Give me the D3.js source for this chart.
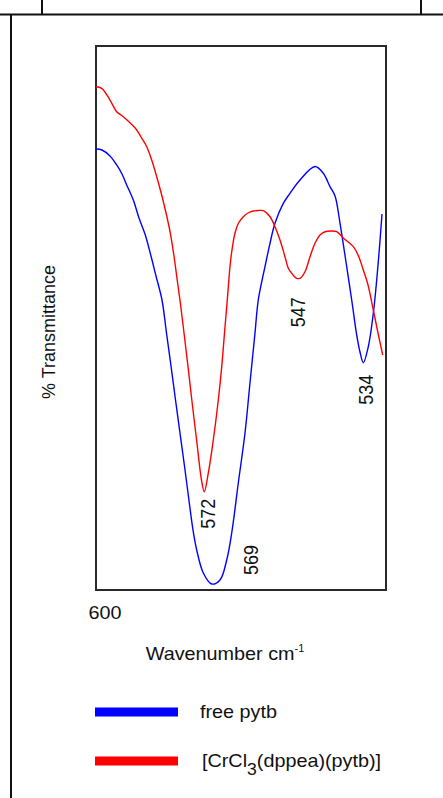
<!DOCTYPE html>
<html>
<head>
<meta charset="utf-8">
<script src="https://cdn.jsdelivr.net/npm/d3@7/dist/d3.min.js"></script>
<style>
  html, body { margin: 0; padding: 0; background: #fff; }
  svg { display: block; }
  text { font-family: "Liberation Sans", Arial, sans-serif; fill: #111; }
</style>
</head>
<body>
<svg id="chart" width="443" height="798"></svg>
<script>
// IR spectra, far-IR region: [wavenumber (cm-1), % transmittance]
const freePytb = [
  [600, 81.07], [598.47, 80.88], [596.43, 79.78], [594.72, 78.13], [593.37, 76.47],
  [592.17, 74.45], [590.48, 71.69], [589.03, 68.38], [587.5, 65.44], [585.97, 61.4],
  [584.69, 57.72], [583.16, 53.31], [582.01, 47.24], [580.86, 41.18], [579.71, 34.93],
  [578.57, 28.86], [577.42, 22.79], [576.19, 15.99], [575.25, 11.03], [574.3, 7.35],
  [572.62, 3.13], [570.48, 1.1], [568.36, 1.84], [566.65, 5.51], [565.37, 10.48],
  [563.69, 19.67], [561.98, 28.86], [560.71, 38.05], [559.43, 47.24], [558.59, 53.31],
  [556.88, 59.43], [555.6, 63.73], [554.33, 67.41], [552.21, 71.08], [550.5, 72.92],
  [547.95, 75.37], [544.12, 77.85], [542.0, 76.6], [540.29, 74.14], [539.01, 72.43],
  [537.74, 67.46], [536.03, 59.43], [534.75, 53.31], [533.48, 46.88], [532.64, 43.75],
  [531.79, 41.78], [530.52, 44.72], [529.24, 50.86], [528.37, 56.99], [527.66, 63.05],
  [527.02, 69.12]
];
const crComplex = [
  [600, 92.52], [598.55, 92.22], [596.43, 90.07], [594.72, 87.92], [593.03, 87.0],
  [590.48, 85.29], [589.61, 84.56], [588.52, 83.27], [587.06, 81.49], [585.79, 79.04],
  [584.51, 75.97], [583.24, 72.61], [582.01, 68.93], [580.99, 65.44], [580.1, 61.4],
  [579.28, 56.99], [578.51, 52.94], [577.54, 47.24], [576.52, 41.05], [575.55, 34.93],
  [574.33, 27.57], [573.08, 20.22], [572.37, 18.07], [571.34, 21.51], [570.07, 27.57],
  [568.79, 34.93], [567.92, 41.05], [567.08, 48.4], [566.5, 53.31], [565.81, 59.43],
  [565.3, 62.5], [564.53, 65.63], [563.64, 67.46], [562.41, 68.62], [561.21, 69.3],
  [559.86, 69.67], [558.66, 69.76], [557.31, 69.72], [555.6, 68.62], [554.33, 66.78],
  [553.05, 64.34], [551.78, 61.27], [550.93, 59.14], [550.06, 58.22], [548.79, 57.3],
  [547.95, 57.3], [546.67, 58.51], [545.39, 61.27], [544.12, 63.73], [542.84, 65.26],
  [541.57, 65.86], [540.03, 65.99], [538.58, 65.86], [536.9, 64.71], [534.34, 63.11],
  [533.02, 61.4], [531.79, 58.82], [530.59, 56.07], [529.24, 51.47], [528.04, 47.24],
  [526.84, 43.2]
];
const seriesNames = ["free pytb", "[CrCl3(dppea)(pytb)]"];
const seriesColors = ["#0000ff", "#ff0000"];
const xTickValues = [600];
// Band assignments: label text, series index, approximate position of the band
const peakLabels = [
  { text: "572", series: 1, near: 572 },
  { text: "569", series: 0, near: 570 },
  { text: "547", series: 1, near: 548 },
  { text: "534", series: 0, near: 532 }
];

const svg = d3.select("#chart");
const plot = { left: 96, top: 46, right: 386, bottom: 590 };
const stretch = 1.1; // horizontal text stretch

const x = d3.scaleLinear().domain([600, 526]).range([plot.left, plot.right]);
const y = d3.scaleLinear().domain([0, 100]).range([plot.bottom, plot.top]);

// page frame lines
const frame = svg.append("g").attr("stroke", "#111").attr("stroke-width", 2);
frame.append("line").attr("x1", 0).attr("x2", 443).attr("y1", 14.5).attr("y2", 14.5);
frame.append("line").attr("x1", 42).attr("x2", 42).attr("y1", 0).attr("y2", 14.5);
frame.append("line").attr("x1", 421).attr("x2", 421).attr("y1", 0).attr("y2", 14.5);
frame.append("line").attr("x1", 11).attr("x2", 11).attr("y1", 14.5).attr("y2", 798);

// plot box
svg.append("rect")
  .attr("x", plot.left).attr("y", plot.top)
  .attr("width", plot.right - plot.left).attr("height", plot.bottom - plot.top)
  .attr("fill", "none").attr("stroke", "#2a2a2a").attr("stroke-width", 2);

// spectra
const line = d3.line()
  .x(d => x(d[0])).y(d => y(d[1]))
  .curve(d3.curveCatmullRom.alpha(0.5));
const spectra = [freePytb, crComplex];
spectra.forEach((data, i) => {
  svg.append("path")
    .datum(data)
    .attr("d", line)
    .attr("fill", "none")
    .attr("stroke", seriesColors[i])
    .attr("stroke-width", 1.4);
});

// band labels, rotated, placed relative to each band minimum
const labelOffset = {
  "572": { dx: 4, dy: 22 },
  "569": { dx: 39, dy: -24 },
  "547": { dx: 1, dy: 34 },
  "534": { dx: 3, dy: 27 }
};
peakLabels.forEach(p => {
  const data = spectra[p.series];
  const win = data.filter(d => Math.abs(d[0] - p.near) <= 3);
  const m = win.reduce((a, b) => (b[1] < a[1] ? b : a));
  const off = labelOffset[p.text];
  const cx = x(m[0]) + off.dx, cy = y(m[1]) + off.dy;
  svg.append("text")
    .attr("transform", `translate(${cx},${cy}) scale(${stretch},1) rotate(-90)`)
    .attr("text-anchor", "middle")
    .attr("dy", "0.36em")
    .attr("font-size", 18)
    .text(p.text);
});

// x tick label
xTickValues.forEach(v => {
  svg.append("text")
    .attr("transform", `translate(${x(v) + 9},619) scale(${stretch},1)`)
    .attr("text-anchor", "middle")
    .attr("font-size", 18)
    .text(v);
});

// axis titles
const xt = svg.append("text")
  .attr("transform", `translate(225,660) scale(${stretch},1)`)
  .attr("text-anchor", "middle")
  .attr("font-size", 18);
xt.append("tspan").text("Wavenumber cm");
xt.append("tspan").attr("font-size", 10).attr("dy", -8).text("-1");

svg.append("text")
  .attr("transform", `translate(55,332) rotate(-90)`)
  .attr("text-anchor", "middle")
  .attr("font-size", 18)
  .text("% Transmittance");

// legend
const legendY = [712, 761];
seriesNames.forEach((name, i) => {
  svg.append("line")
    .attr("x1", 95).attr("x2", 178)
    .attr("y1", legendY[i]).attr("y2", legendY[i])
    .attr("stroke", seriesColors[i]).attr("stroke-width", 9);
  const t = svg.append("text")
    .attr("transform", `translate(${i === 0 ? 200 : 202},${legendY[i] + 6}) scale(${stretch},1)`)
    .attr("font-size", 18);
  if (name.includes("3")) {
    const [a, b] = name.split("3");
    t.append("tspan").text(a);
    t.append("tspan").attr("font-size", 16).attr("dy", 8).text("3");
    t.append("tspan").attr("dy", -8).text(b);
  } else {
    t.text(name);
  }
});
</script>
</body>
</html>
